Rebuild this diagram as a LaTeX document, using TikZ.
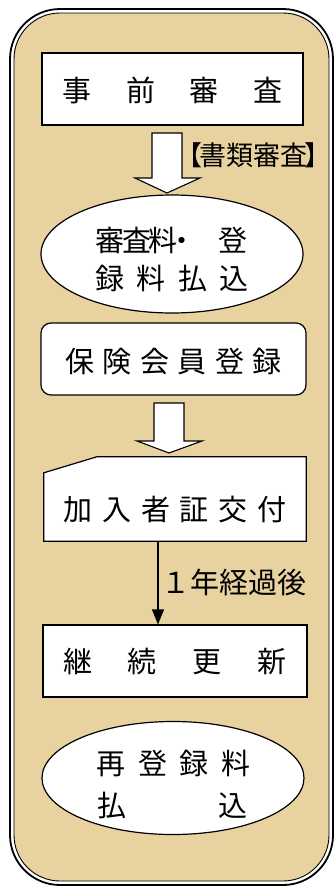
\documentclass[tikz,border=0pt]{standalone}
\usepackage{fontspec}
\newfontfamily\jp{Noto Sans CJK JP}
\usetikzlibrary{arrows.meta,shapes.geometric}
\definecolor{parch}{RGB}{232,211,160}
\begin{document}
\begin{tikzpicture}[x=1pt,y=-1pt,
  jptext/.style={font=\jp\fontsize{29}{33}\selectfont, inner sep=0pt},
  boxline/.style={draw=black, line width=1.2pt, fill=white, inner sep=0pt},
  blockarrow/.style={draw=black, line width=1.1pt, fill=white, line join=miter},
  thinarrow/.style={draw=black, line width=1.2pt, -{Triangle[length=15pt,width=12pt]}}]
\useasboundingbox (0,0) rectangle (335,889);
% frame
\draw[line width=1.8pt, fill=white, rounded corners=50pt] (10,9) rectangle (333,885);
\draw[line width=0.9pt, fill=parch, rounded corners=46pt] (14,13) rectangle (329,881);

% box 1
\node[boxline, minimum width=261pt, minimum height=72pt] (b1) at (172.5,89) {};
\node[jptext] (t1) at (172.5,90) {事\hspace{34.5pt}前\hspace{34.5pt}審\hspace{34.5pt}査};

% block arrow 1
\draw[blockarrow] (152,133) -- (182,133) -- (182,178) -- (200,178) -- (167,193) -- (135,178) -- (152,178) -- cycle;
\node[jptext, font=\jp\fontsize{27}{31}\selectfont] (l1) at (253,155) {\kern-10pt【\hspace{-3pt}書類審査\hspace{-3pt}】\kern-10pt};

% ellipse 1
\node[boxline, ellipse, minimum width=262pt, minimum height=118pt] (e1) at (172,254) {};
\node[jptext] (e1a) at (171.5,240) {審\hspace{-2.3pt}査\hspace{-2.3pt}料\hspace{-10.4pt}・\hspace{22pt}登};
\node[jptext] (e1b) at (172,278) {録\hspace{12.3pt}料\hspace{12.3pt}払\hspace{12.3pt}込};

% box 2
\node[boxline, rounded corners=10pt, minimum width=265pt, minimum height=72pt] (b2) at (173.5,359) {};
\node[jptext] (t2) at (173.5,362) {保\hspace{8.4pt}険\hspace{8.4pt}会\hspace{8.4pt}員\hspace{8.4pt}登\hspace{8.4pt}録};

% block arrow 2
\draw[blockarrow] (154,403) -- (184,403) -- (184,441) -- (202,441) -- (169,453) -- (137,441) -- (154,441) -- cycle;

% box 3 (card)
\node[minimum width=262pt, minimum height=84pt, inner sep=0pt] (b3) at (175,499) {};
\draw[boxline] (b3.south west) -- ([yshift=-16pt]b3.north west) -- ([xshift=53pt]b3.north west) -- (b3.north east) -- (b3.south east) -- cycle;
\node[jptext] (t3) at (175,510) {加\hspace{9.9pt}入\hspace{9.9pt}者\hspace{9.9pt}証\hspace{9.9pt}交\hspace{9.9pt}付};

% box 4
\node[boxline, minimum width=264pt, minimum height=72pt] (b4) at (175,661) {};
\node[jptext] (t4) at (175,662) {継\hspace{36pt}続\hspace{36pt}更\hspace{36pt}新};

% thin arrow
\coordinate (ax) at (158,0);
\draw[thinarrow] (b3.south -| ax) -- (b4.north -| ax);
\node[jptext] (l2) at (234,582) {１年経過後};

% ellipse 2
\node[boxline, ellipse, minimum width=262pt, minimum height=113pt] (e2) at (173,778) {};
\node[jptext] (e2a) at (173.5,763) {再\hspace{12.7pt}登\hspace{12.7pt}録\hspace{12.7pt}料};
\node[jptext] (e2b) at (172.5,805) {払\hspace{92pt}込};
\end{tikzpicture}
\end{document}
